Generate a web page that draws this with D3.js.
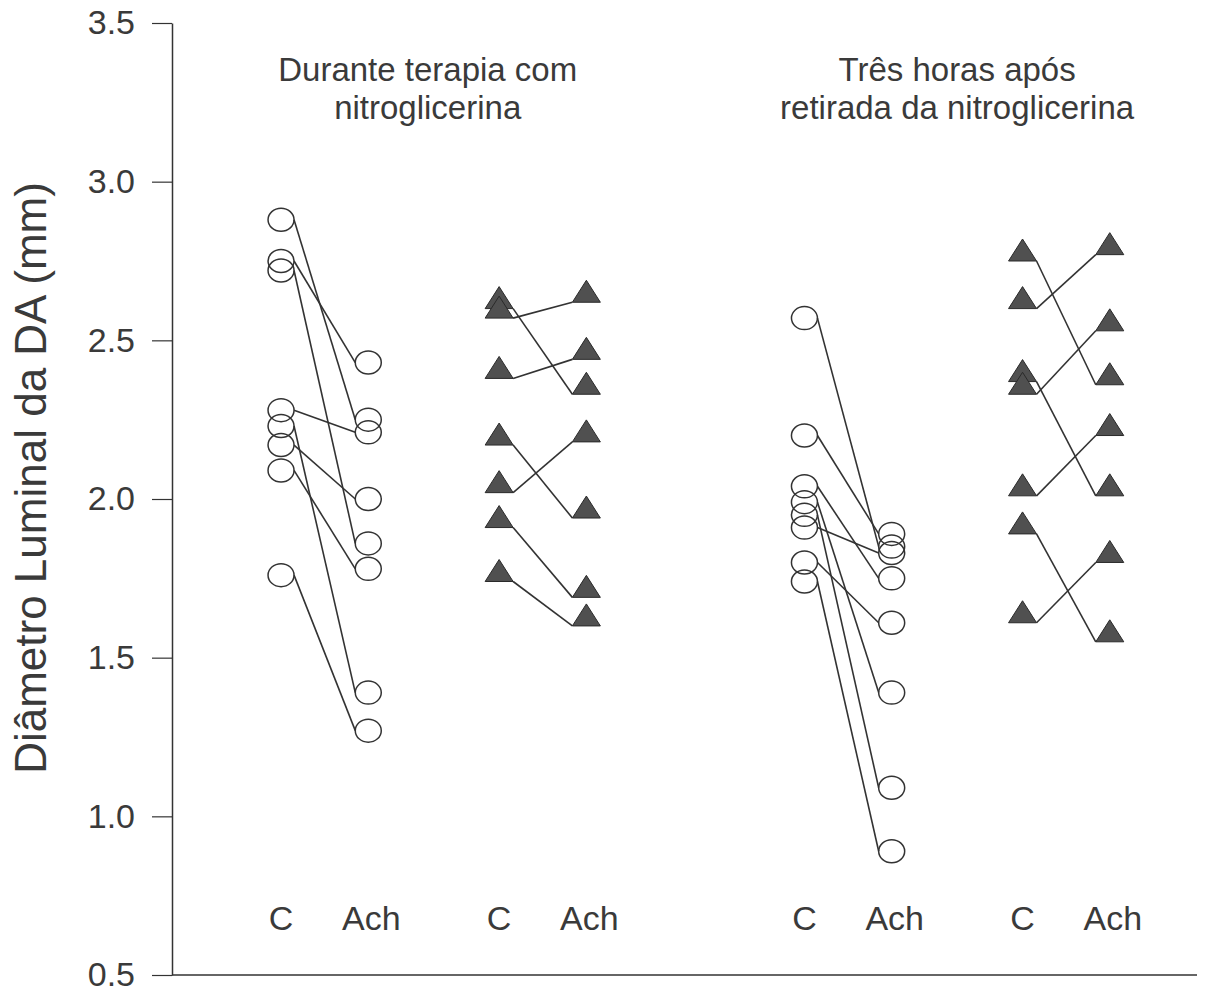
<!DOCTYPE html>
<html>
<head>
<meta charset="utf-8">
<script src="https://cdn.jsdelivr.net/npm/d3@7"></script>
<style>
    body { margin: 0; background: #fff; }
    svg { display: block; }
</style>
</head>
<body>
<div class="vis-pairs"></div>
<script>
// categories (position on the x axis) and labels
const catLabels = ["C", "Ach", "C", "Ach", "C", "Ach", "C", "Ach"];
const catPos = [1, 2, 3.5, 4.5, 7, 8, 9.5, 10.5];
const yTicks = [0.5, 1.0, 1.5, 2.0, 2.5, 3.0, 3.5];
const titleLeft = ["Durante terapia com", "nitroglicerina"];
const titleRight = ["Três horas após", "retirada da nitroglicerina"];

// durante terapia - circulos (C -> Ach, pareados)
const circ1C = [2.88, 2.75, 2.72, 2.28, 2.23, 2.17, 2.09, 1.76];
const circ1A = [2.25, 2.43, 1.86, 2.21, 1.39, 2.00, 1.78, 1.27];
// durante terapia - triangulos
const tri1C = [2.60, 2.57, 2.38, 2.17, 2.02, 1.91, 1.74];
const tri1A = [2.33, 2.62, 2.44, 1.94, 2.18, 1.69, 1.60];
// tres horas apos - circulos
const circ2C = [2.57, 2.20, 2.04, 1.99, 1.95, 1.91, 1.80, 1.74];
const circ2A = [1.85, 1.89, 1.75, 1.39, 1.09, 1.83, 1.61, 0.89];
// tres horas apos - triangulos
const tri2C = [2.75, 2.60, 2.37, 2.33, 2.01, 1.89, 1.61];
const tri2A = [2.36, 2.77, 2.01, 2.53, 2.20, 1.55, 1.80];

const draw = () => {
    const width = 1213;
    const height = 997;
    const ink = "#333";
    const textInk = "#3a3a3a";
    const font = "'Liberation Sans', Arial, sans-serif";

    const svg = d3.select('.vis-pairs')
        .append('svg')
        .attr("width", width)
        .attr("height", height)
        .style("font-family", font);

    const x = d3.scaleLinear().domain([-0.25, 11.5]).range([172, 1197]);
    const y = d3.scaleLinear().domain([0.5, 3.5]).range([975, 23]);

    // eixo y
    const yAxis = svg.append("g")
        .attr("transform", "translate(" + x(-0.25) + ",0)")
        .call(d3.axisLeft(y)
            .tickValues(yTicks)
            .tickFormat(d3.format(".1f"))
            .tickSize(20)
            .tickPadding(17)
            .tickSizeOuter(0));
    yAxis.select(".domain").attr("stroke", ink).attr("stroke-width", 1.5);
    yAxis.selectAll(".tick line").attr("stroke", ink).attr("stroke-width", 1.2);
    yAxis.selectAll(".tick text")
        .attr("fill", textInk)
        .style("font-size", "34px")
        .style("font-family", font);

    // eixo x (so a linha)
    svg.append("line")
        .attr("x1", x(-0.25)).attr("x2", x(11.5))
        .attr("y1", y(0.5)).attr("y2", y(0.5))
        .attr("stroke", ink)
        .attr("stroke-width", 1.5);

    svg.append("text")
        .attr("transform", "translate(46,478) rotate(-90)")
        .attr("text-anchor", "middle")
        .attr("fill", textInk)
        .style("font-size", "44px")
        .text("Diâmetro Luminal da DA (mm)");

    // titulos
    const titles = [
        {lines: titleLeft, cx: (x(1) + x(4.5)) / 2 - 6},
        {lines: titleRight, cx: (x(7) + x(10.5)) / 2}
    ];
    titles.forEach(t => {
        svg.append("g").selectAll("text")
            .data(t.lines)
            .join("text")
            .attr("x", t.cx)
            .attr("y", (d, i) => 81 + i * 38)
            .attr("text-anchor", "middle")
            .attr("fill", textInk)
            .style("font-size", "33px")
            .text(d => d);
    });

    // rotulos C / Ach
    svg.append("g").selectAll("text")
        .data(catLabels)
        .join("text")
        .attr("x", (d, i) => x(catPos[i]) + (d === "Ach" ? 3 : 0))
        .attr("y", 930)
        .attr("text-anchor", "middle")
        .attr("fill", textInk)
        .style("font-size", "34px")
        .text(d => d);

    const rx = 13, ry = 11.5;   // circulo (meio achatado no original)
    const tw = 14, th = 22;     // meia largura / altura do triangulo

    const groups = [
        {c: circ1C, a: circ1A, xc: catPos[0], xa: catPos[1], shape: "circle"},
        {c: tri1C, a: tri1A, xc: catPos[2], xa: catPos[3], shape: "tri"},
        {c: circ2C, a: circ2A, xc: catPos[4], xa: catPos[5], shape: "circle"},
        {c: tri2C, a: tri2A, xc: catPos[6], xa: catPos[7], shape: "tri"}
    ];

    const linkgroup = svg.append("g")
        .attr("stroke", ink)
        .attr("stroke-width", 1.6)
        .attr("fill", "none");
    const nodegroup = svg.append("g");

    groups.forEach(g => {
        const off = g.shape === "circle" ? rx : tw;
        const pairs = g.c.map((v, i) => ({c: v, a: g.a[i]}));

        linkgroup.append("g").selectAll("line")
            .data(pairs)
            .join("line")
            .attr("x1", x(g.xc) + off)
            .attr("y1", d => y(d.c))
            .attr("x2", x(g.xa) - off)
            .attr("y2", d => y(d.a));

        const pts = g.c.map(v => ({px: g.xc, v: v}))
            .concat(g.a.map(v => ({px: g.xa, v: v})));

        if (g.shape === "circle") {
            nodegroup.append("g").selectAll("ellipse")
                .data(pts)
                .join("ellipse")
                .attr("cx", d => x(d.px))
                .attr("cy", d => y(d.v))
                .attr("rx", rx)
                .attr("ry", ry)
                .attr("fill", "none")
                .attr("stroke", ink)
                .attr("stroke-width", 1.5);
        } else {
            nodegroup.append("g").selectAll("path")
                .data(pts)
                .join("path")
                .attr("d", d => {
                    const cx = x(d.px), by = y(d.v);
                    return "M" + (cx - tw) + "," + by + "L" + cx + "," + (by - th) +
                        "L" + (cx + tw) + "," + by + "Z";
                })
                .attr("fill", "#505050")
                .attr("stroke", "#2a2a2a")
                .attr("stroke-width", 1);
        }
    });
}

draw();
</script>
</body>
</html>
